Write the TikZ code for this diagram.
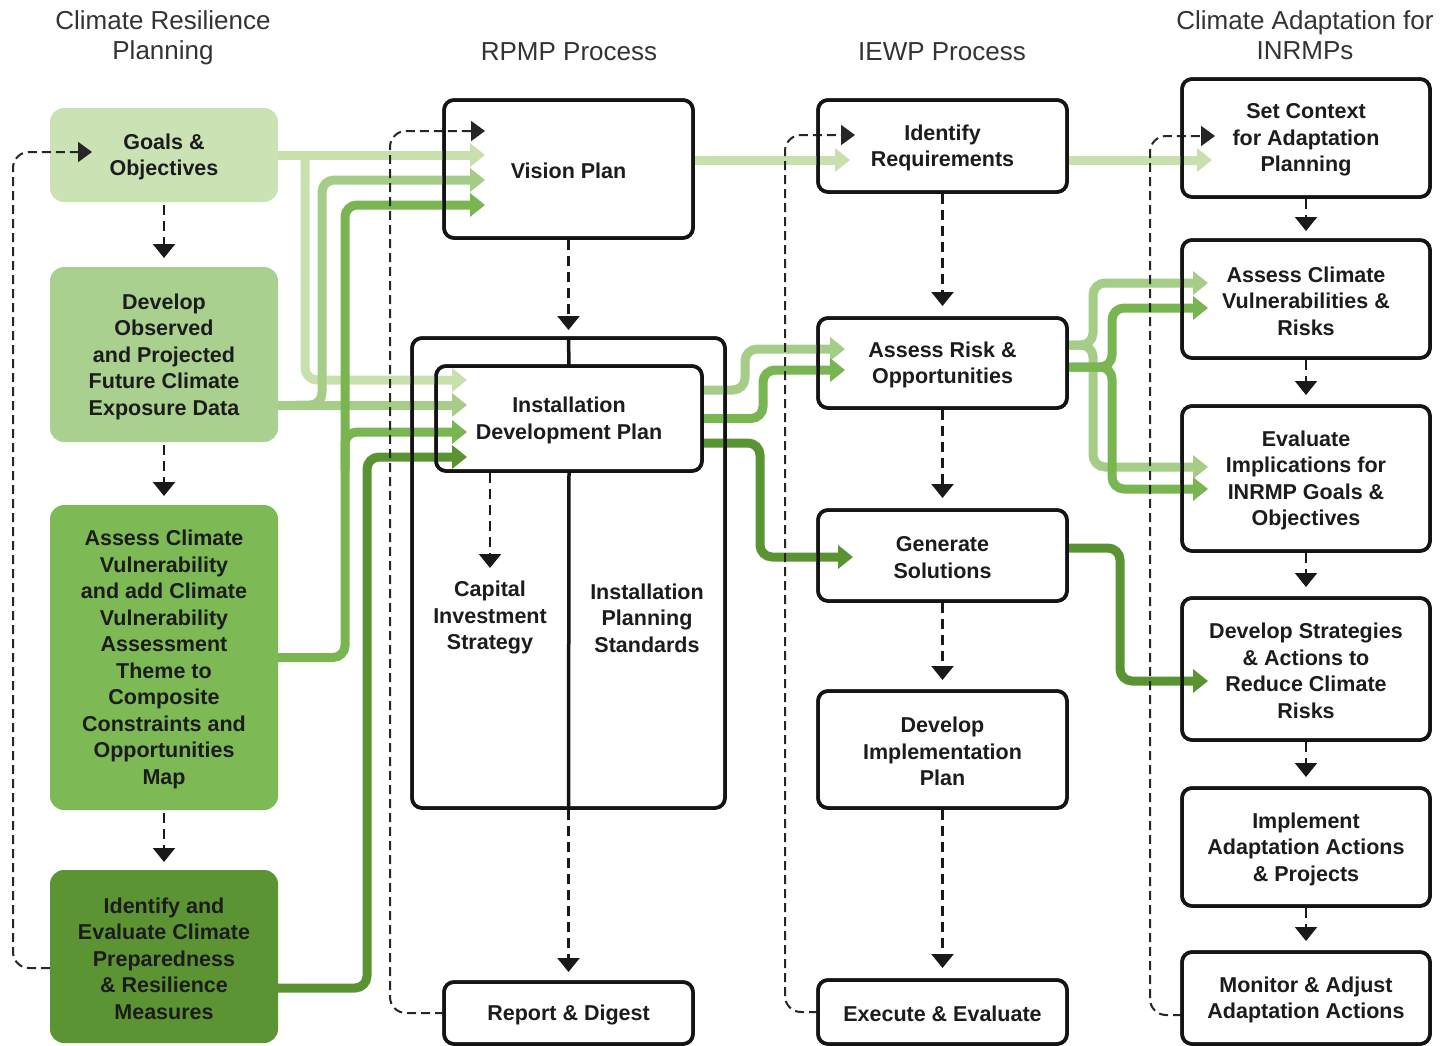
\documentclass[tikz,border=0pt]{standalone}
\usepackage{fontspec}
\setmainfont{Liberation Sans}
\usetikzlibrary{arrows.meta}
\definecolor{gA}{HTML}{CBE2B4}
\definecolor{gB}{HTML}{A9D08E}
\definecolor{gC}{HTML}{7DB955}
\definecolor{gD}{HTML}{5C9434}
\definecolor{aA}{HTML}{C8E0AE}
\definecolor{aB}{HTML}{A5CD88}
\definecolor{aC}{HTML}{79B550}
\definecolor{aD}{HTML}{5A9332}
\definecolor{txt}{HTML}{1C1C1C}
\newcommand{\tstrut}{\rule{0pt}{19.5pt}}
\begin{document}
\begin{tikzpicture}[x=1pt,y=-1pt,
  every node/.style={font=\bfseries\fontsize{21.5}{26.5}\selectfont, text=txt, align=center, inner sep=0pt, outer sep=0pt},
  wbox/.style={draw=black!92, line width=3.5pt, rounded corners=10pt, fill=white},
  bord/.style={draw=black!92, line width=3.5pt, rounded corners=10pt},
  gbox/.style={rounded corners=14pt},
  head/.style={font=\fontsize{26}{30}\selectfont, text=black!80},
  dsh/.style={draw=black!90, line width=2.2pt, dash pattern=on 10pt off 6pt, -{Triangle[width=22pt,length=14pt]}},
  lp/.style={draw=black!85, line width=2pt, dash pattern=on 9pt off 5pt, rounded corners=16pt, -{Triangle[width=20pt,length=14pt]}},
  garrow/.style={line width=9pt, rounded corners=12pt, -{Triangle[width=23pt,length=15pt]}},
]
\useasboundingbox (0,0) rectangle (1443,1045);
% headers
\node[head] (h1) at (163,38) {Climate Resilience\\Planning};
\node[head] (h2) at (569,52) {RPMP Process};
\node[head] (h3) at (942,52) {IEWP Process};
\node[head] (h4) at (1305,35.5) {Climate Adaptation for\\INRMPs};
% column 1 (green boxes)
\node[gbox, fill=gA, minimum width=228pt, minimum height=94pt] (goals) at (164,155) {\tstrut Goals \&\\Objectives};
\node[gbox, fill=gB, minimum width=228pt, minimum height=175pt] (devobs) at (164,354.5) {\tstrut Develop\\Observed\\and Projected\\Future Climate\\Exposure Data};
\node[gbox, fill=gC, minimum width=228pt, minimum height=305pt] (asscl) at (164,657.5) {\tstrut Assess Climate\\Vulnerability\\and add Climate\\Vulnerability\\Assessment\\Theme to\\Composite\\Constraints and\\Opportunities\\Map};
\node[gbox, fill=gD, minimum width=228pt, minimum height=173pt] (ideval) at (164,956.5) {\tstrut Identify and\\Evaluate Climate\\Preparedness\\\& Resilience\\Measures};
% column 2
\node[wbox, minimum width=249pt, minimum height=138pt] (vision) at (568.5,169) {\tstrut Vision Plan};
\node[wbox, minimum width=313pt, minimum height=470pt] (rp) at (568.5,573) {};
\node[wbox, minimum width=266pt, minimum height=105pt] (idp) at (569,418.5) {\tstrut Installation\\Development Plan};
\node (cap) at (490,616) {\tstrut Capital\\Investment\\Strategy};
\node (ips) at (647,616) {\tstrut Installation\\Planning\\Standards};
\node[wbox, minimum width=249pt, minimum height=62pt] (report) at (568.5,1013) {\tstrut Report \& Digest};
% column 3
\node[wbox, minimum width=249pt, minimum height=92pt] (idreq) at (942.5,146) {\tstrut Identify\\Requirements};
\node[wbox, minimum width=249pt, minimum height=90pt] (ar) at (942.5,363) {\tstrut Assess Risk \&\\Opportunities};
\node[wbox, minimum width=249pt, minimum height=91pt] (gen) at (942.5,555.5) {\tstrut Generate\\Solutions};
\node[wbox, minimum width=249pt, minimum height=117pt] (dip) at (942.5,749.5) {\tstrut Develop\\Implementation\\Plan};
\node[wbox, minimum width=249pt, minimum height=64pt] (exe) at (942.5,1012) {\tstrut Execute \& Evaluate};
% column 4
\node[wbox, minimum width=248pt, minimum height=118pt] (setc) at (1306,138) {\tstrut Set Context\\for Adaptation\\Planning};
\node[wbox, minimum width=248pt, minimum height=118pt] (acv) at (1306,299) {\tstrut Assess Climate\\Vulnerabilities \&\\Risks};
\node[wbox, minimum width=248pt, minimum height=145pt] (evi) at (1306,478.5) {\tstrut Evaluate\\Implications for\\INRMP Goals \&\\Objectives};
\node[wbox, minimum width=248pt, minimum height=142pt] (dst) at (1306,669) {\tstrut Develop Strategies\\\& Actions to\\Reduce Climate\\Risks};
\node[wbox, minimum width=248pt, minimum height=118pt] (imp) at (1306,847) {\tstrut Implement\\Adaptation Actions\\\& Projects};
\node[wbox, minimum width=248pt, minimum height=92pt] (mon) at (1306,998) {\tstrut Monitor \& Adjust\\Adaptation Actions};

% tip coordinates
\coordinate (visA) at (485,155);
\coordinate (visB) at (485,180);
\coordinate (visC) at (485,205);
\coordinate (idpA) at (467,380);
\coordinate (idpB) at (467,405);
\coordinate (idpC) at (467,432);
\coordinate (idpD) at (467,457);
\coordinate (idrA) at (850,160);
\coordinate (setA) at (1212,160);
\coordinate (arB) at (845,349);
\coordinate (arC) at (845,370);
\coordinate (genD) at (853,557);
\coordinate (cvB) at (1208,283);
\coordinate (evB) at (1208,467);
\coordinate (cvC) at (1208,308);
\coordinate (evC) at (1208,489);
\coordinate (dsD) at (1208,681);
\coordinate (j1) at (305,155);
\coordinate (j2) at (296,405);
\coordinate (j3) at (345,470);

% green arrows
\draw[garrow, draw=aA] (goals.east) -- (visA);
\draw[garrow, draw=aA] (j1) -- (305,380) -- (idpA);
\draw[garrow, draw=aB] (devobs.east |- idpB) -- (idpB);
\draw[garrow, draw=aB] (j2) -- (322,405) -- (322,180) -- (visB);
\draw[garrow, draw=aC] (asscl.east) -- (345,657.5) -- (345,205) -- (visC);
\draw[garrow, draw=aC] (j3) -- (345,432) -- (idpC);
\draw[garrow, draw=aD] ([yshift=-31.5pt]ideval.east) -- (367,988) -- (367,457) -- (idpD);
\draw[garrow, draw=aA] (vision.east |- idrA) -- (idrA);
\draw[garrow, draw=aA] (idreq.east |- setA) -- (setA);
\draw[garrow, draw=aB] ([yshift=28.5pt]idp.east) -- (745,390) -- (745,349) -- (arB);
\draw[garrow, draw=aC] (idp.east) -- (763,418.5) -- (763,370) -- (arC);
\draw[garrow, draw=aD] ([yshift=-24.5pt]idp.east) -- (760,443) -- (760,557) -- (genD);
\draw[garrow, draw=aB] ([yshift=18pt]ar.east) -- (1093,345) -- (1093,283) -- (cvB);
\draw[garrow, draw=aB] ([yshift=18pt]ar.east) -- (1093,345) -- (1093,467) -- (evB);
\draw[garrow, draw=aC] ([yshift=-4pt]ar.east) -- (1112,367) -- (1112,308) -- (cvC);
\draw[garrow, draw=aC] ([yshift=-4pt]ar.east) -- (1112,367) -- (1112,489) -- (evC);
\draw[garrow, draw=aD] ([yshift=7.5pt]gen.east) -- (1120,548) -- (1120,681) -- (dsD);

% dashed flow arrows
\draw[dsh, shorten <=3pt, shorten >=9pt] (goals.south) -- (devobs.north);
\draw[dsh, shorten <=3pt, shorten >=9pt] (devobs.south) -- (asscl.north);
\draw[dsh, shorten <=3pt, shorten >=8pt] (asscl.south) -- (ideval.north);
\draw[dsh, shorten <=2pt, shorten >=8pt] (vision.south) -- (rp.north);
\draw[dsh, shorten <=2pt, shorten >=10pt] (rp.south) -- (report.north);
\coordinate (capin) at (490,568);
\draw[dsh, shorten <=2pt] (idp.south -| capin) -- (capin);
\draw[dsh, shorten <=2pt, shorten >=12pt] (idreq.south) -- (ar.north);
\draw[dsh, shorten <=2pt, shorten >=12pt] (ar.south) -- (gen.north);
\draw[dsh, shorten <=2pt, shorten >=11pt] (gen.south) -- (dip.north);
\draw[dsh, shorten <=2pt, shorten >=12pt] (dip.south) -- (exe.north);
\draw[dsh, shorten <=2pt, shorten >=9pt] (setc.south) -- (acv.north);
\draw[dsh, shorten <=2pt, shorten >=11pt] (acv.south) -- (evi.north);
\draw[dsh, shorten <=2pt, shorten >=11pt] (evi.south) -- (dst.north);
\draw[dsh, shorten <=2pt, shorten >=11pt] (dst.south) -- (imp.north);
\draw[dsh, shorten <=2pt, shorten >=11pt] (imp.south) -- (mon.north);

% feedback loops
\coordinate (goin) at (92,152);
\coordinate (visin) at (485,131);
\coordinate (idrin) at (855,135);
\coordinate (setin) at (1215,136);
\draw[lp] ([yshift=-11.5pt]ideval.west) -- (13,968) -- (13,152) -- (goin);
\draw[lp] (report.west) -- (390,1013) -- (390,131) -- (visin);
\draw[lp] (exe.west) -- (785,1012) -- (785,135) -- (idrin);
\draw[lp] ([yshift=-17pt]mon.west) -- (1150,1015) -- (1150,136) -- (setin);

% borders on top
\foreach \n in {vision,rp,idp,report,idreq,ar,gen,dip,exe,setc,acv,evi,dst,imp,mon}
  \draw[bord] (\n.south west) rectangle (\n.north east);
\draw[bord, rounded corners=0pt] (rp.north) -- (idp.north);
\draw[bord, rounded corners=0pt] (idp.south) -- (rp.south);
\end{tikzpicture}
\end{document}
